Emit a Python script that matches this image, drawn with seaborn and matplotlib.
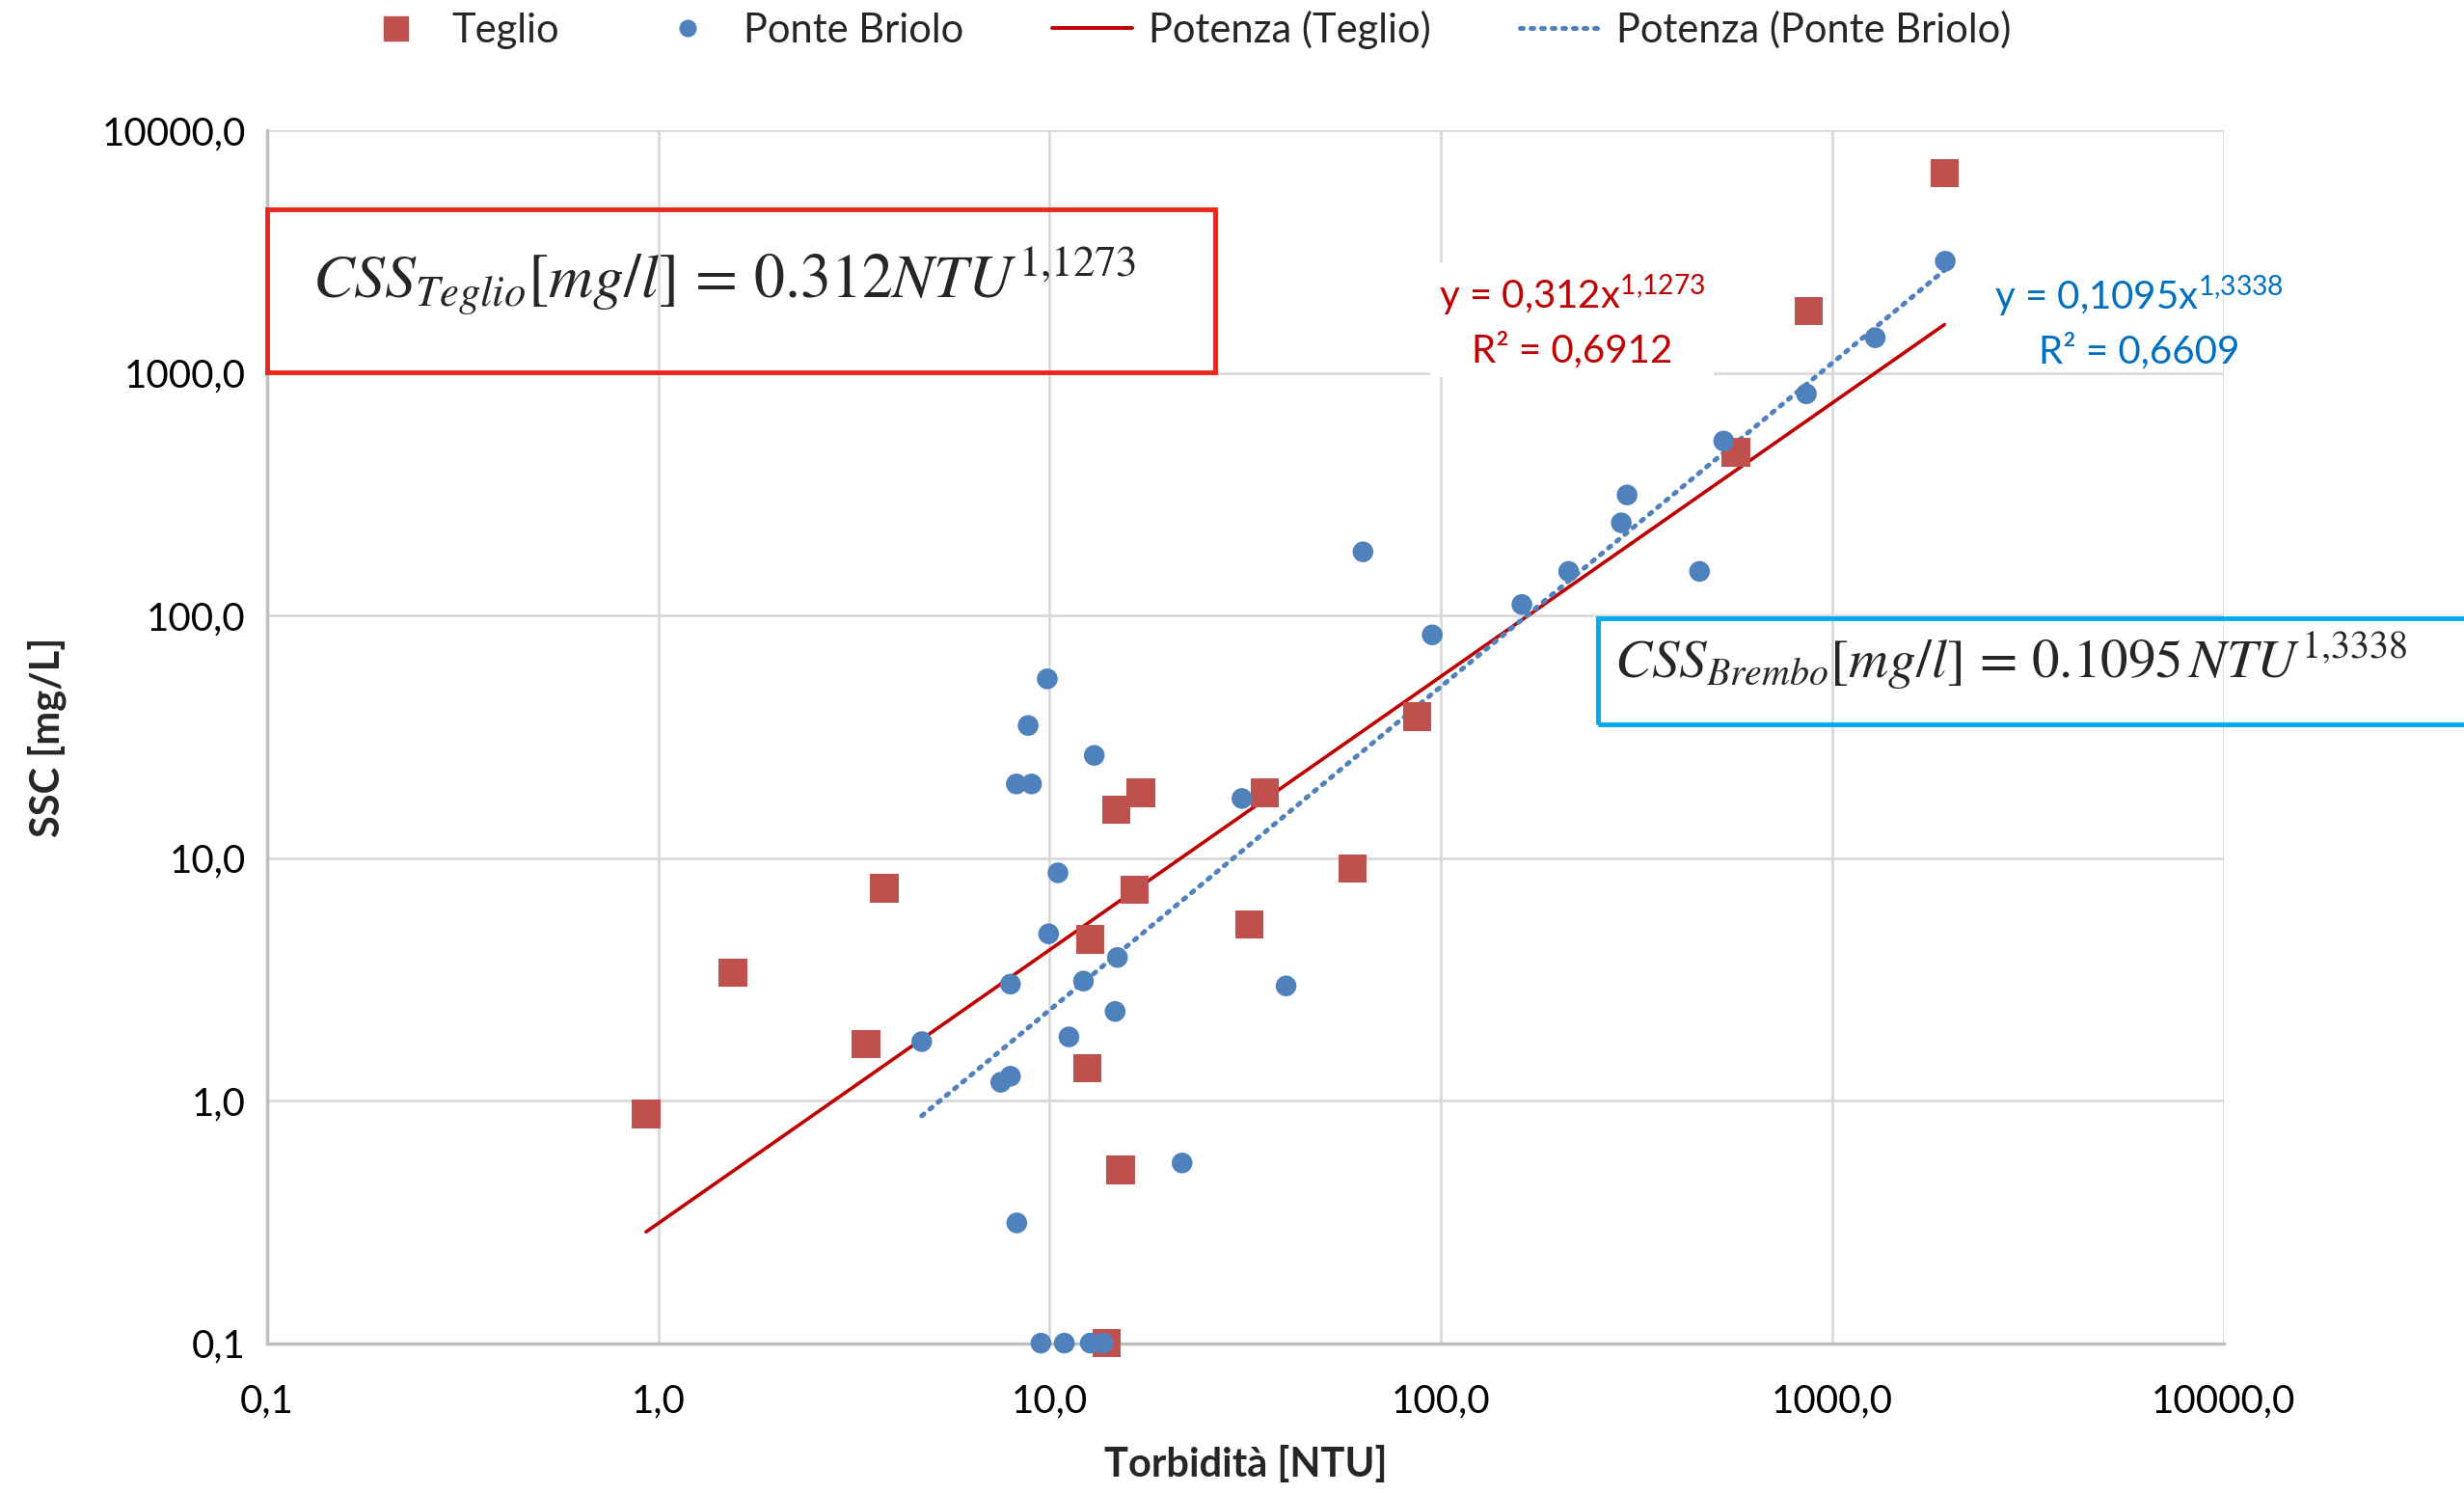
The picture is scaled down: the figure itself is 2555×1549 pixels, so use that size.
"""Turbidity vs SSC scatter with power-law trend lines (log-log)."""

import matplotlib

matplotlib.use("Agg")
import matplotlib.pyplot as plt
import numpy as np
import pandas as pd
import seaborn as sns
from matplotlib.lines import Line2D
from matplotlib.patches import Rectangle
from matplotlib.ticker import FixedLocator, FuncFormatter, NullLocator

# --- data ------------------------------------------------------------------
teglio_ntu = [0.93, 1.55, 3.39, 3.78, 12.5, 12.7, 14.8, 17.1, 16.5, 15.2, 14.0,
              32.4, 35.5, 59.5, 86.9, 568, 871, 1936]
teglio_ssc = [0.88, 3.37, 1.71, 7.51, 1.36, 4.62, 15.8, 18.6, 7.39, 0.518, 0.1,
              5.32, 18.6, 9.04, 38.3, 471, 1799, 6660]

briolo_ntu = [9.86, 8.81, 13.0, 8.22, 8.99, 31.0, 10.5, 9.94, 14.9, 7.94, 12.2,
              40.2, 14.7, 4.71, 11.2, 7.94, 7.50, 21.8, 8.24, 9.5, 10.9, 12.7,
              13.7, 63.2, 95.0, 161, 212, 458, 289, 299, 528, 859, 1288, 1945]
briolo_ssc = [54.8, 35.2, 26.5, 20.2, 20.2, 17.6, 8.69, 4.87, 3.89, 3.02, 3.11,
              2.97, 2.33, 1.75, 1.83, 1.26, 1.19, 0.553, 0.313, 0.1, 0.1, 0.1,
              0.1, 183, 83.2, 111, 152, 152, 241, 314, 524, 820, 1397, 2890]

# power-law fits as printed on the chart: y = a * x^b, with R²
teglio_fit = (0.312, 1.1273, 0.6912)
briolo_fit = (0.1095, 1.3338, 0.6609)

tick_values = [0.1, 1, 10, 100, 1000, 10000]

RED_PT = "#C0504D"
BLUE_PT = "#4F81BD"
RED_LINE = "#C00000"
BLUE_TXT = "#0070C0"


def comma(v, _pos=None):
    return f"{v:.1f}".replace(".", ",")


def it(v):
    return str(v).replace(".", ",")


def power_curve(x, fit):
    a, b, _ = fit
    xs = np.geomspace(min(x), max(x), 60)
    return pd.DataFrame({"x": xs, "y": a * xs ** b})


def fit_label(fit):
    a, b, r2 = fit
    exp = it(b).replace(",", "{,}")
    return f"y = {it(a)}x$^{{\\mathregular{{{exp}}}}}$\nR² = {it(r2)}"


sns.set_theme(style="white")
plt.rcParams["font.family"] = ["Lato", "DejaVu Sans"]
plt.rcParams["mathtext.fontset"] = "stix"

fig = plt.figure(figsize=(25.55, 15.49), dpi=100)
ax = fig.add_axes([0.1084, 0.101, 0.794, 0.8117])
ax.set_xscale("log")
ax.set_yscale("log")
ax.set_xlim(0.1, 10000)
ax.set_ylim(0.1, 10000)

ax.grid(True, which="major", color="#D9D9D9", linewidth=2.0)
ax.set_axisbelow(True)
for side in ["top", "right"]:
    ax.spines[side].set_visible(False)
for side in ["left", "bottom"]:
    ax.spines[side].set_color("#BFBFBF")
    ax.spines[side].set_linewidth(2.5)

teg = pd.DataFrame({"x": teglio_ntu, "y": teglio_ssc})
bri = pd.DataFrame({"x": briolo_ntu, "y": briolo_ssc})

sns.lineplot(data=power_curve(teglio_ntu, teglio_fit), x="x", y="y", ax=ax,
             color=RED_LINE, linewidth=2.6, sort=True, zorder=3)
sns.lineplot(data=power_curve(briolo_ntu, briolo_fit), x="x", y="y", ax=ax,
             color=BLUE_PT, linewidth=3.6, linestyle=(0, (0.6, 1.6)),
             dash_capstyle="round", sort=True, zorder=3)
sns.scatterplot(data=teg, x="x", y="y", ax=ax, marker="s", s=450, color=RED_PT,
                edgecolor="none", clip_on=False, zorder=4)
sns.scatterplot(data=bri, x="x", y="y", ax=ax, marker="o", s=240, color=BLUE_PT,
                edgecolor="none", clip_on=False, zorder=4)

ax.xaxis.set_major_locator(FixedLocator(tick_values))
ax.yaxis.set_major_locator(FixedLocator(tick_values))
ax.xaxis.set_minor_locator(NullLocator())
ax.yaxis.set_minor_locator(NullLocator())
ax.xaxis.set_major_formatter(FuncFormatter(comma))
ax.yaxis.set_major_formatter(FuncFormatter(comma))
ax.tick_params(axis="both", length=0, labelsize=29, colors="#000000", pad=16)
ax.tick_params(axis="x", pad=30)

ax.set_xlabel("Torbidità [NTU]", fontsize=30, fontweight="bold", labelpad=20)
ax.set_ylabel("SSC [mg/L]", fontsize=30, fontweight="bold", labelpad=26)

# trend-line equations
ax.text(0.667, 0.843, fit_label(teglio_fit), transform=ax.transAxes,
        ha="center", va="center", multialignment="center", fontsize=29,
        color=RED_LINE, linespacing=1.45, zorder=5,
        bbox=dict(facecolor="white", edgecolor="none", pad=6))
ax.text(0.957, 0.842, fit_label(briolo_fit), transform=ax.transAxes,
        ha="center", va="center", multialignment="center", fontsize=29,
        color=BLUE_TXT, linespacing=1.45, zorder=5, clip_on=False)

# formula boxes
fig.add_artist(Rectangle((0.1084, 0.751), 0.3846, 0.109, transform=fig.transFigure,
                         fill=False, edgecolor="#E8261C", linewidth=3.5))
fig.text(0.127, 0.812, r"$CSS_{Teglio}[mg/l]\,=\,0.312NTU^{1{,}1273}$",
         fontsize=46, ha="left", va="center")
fig.add_artist(Rectangle((0.6487, 0.515), 0.355, 0.071, transform=fig.transFigure,
                         fill=False, edgecolor="#00A8F0", linewidth=3.5))
fig.text(0.655, 0.557, r"$CSS_{Brembo}[mg/l]\,=\,0.1095\,NTU^{1{,}3338}$",
         fontsize=41, ha="left", va="center")

handles = [
    Line2D([], [], marker="s", linestyle="none", color=RED_PT, markersize=18),
    Line2D([], [], marker="o", linestyle="none", color=BLUE_PT, markersize=12),
    Line2D([], [], color=RED_LINE, linewidth=2.8),
    Line2D([], [], color=BLUE_PT, linewidth=3.6, linestyle=(0, (0.6, 1.6)),
           dash_capstyle="round"),
]
labels = ["Teglio", "Ponte Briolo", "Potenza (Teglio)", "Potenza (Ponte Briolo)"]
fig.legend(handles, labels, loc="center", bbox_to_anchor=(0.48, 0.98), ncol=4,
           frameon=False, fontsize=30, handlelength=2.0, columnspacing=2.2,
           handletextpad=0.4)

fig.savefig("out.png", dpi=100)
